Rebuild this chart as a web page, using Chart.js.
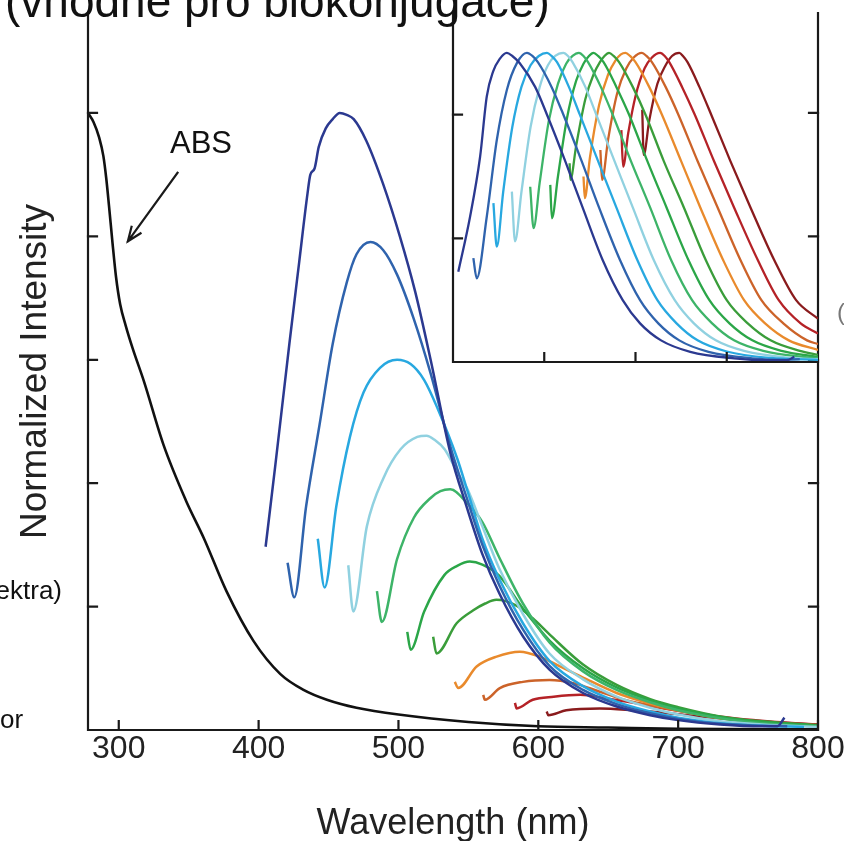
<!DOCTYPE html>
<html><head><meta charset="utf-8">
<script src="https://cdn.jsdelivr.net/npm/chart.js@4.4.1/dist/chart.umd.min.js"></script>
<style>
html,body{margin:0;padding:0;background:#fff;overflow:hidden}
#wrap{position:relative;width:844px;height:841px;overflow:hidden;font-family:'Liberation Sans',Arial,sans-serif;color:#111}
#main{position:absolute;left:0;top:0}
#inset{position:absolute;left:440px;top:0}
.t{position:absolute;white-space:nowrap;line-height:1}
</style></head><body>
<div id="wrap">
<canvas id="main" width="844" height="841"></canvas>
<canvas id="inset" width="404" height="380"></canvas>
<div class="t" style="left:5px;top:-22px;font-size:46px">(vhodné pro biokonjugace)</div>
<div class="t" style="right:782px;top:577px;font-size:26px">(spektra)</div>
<div class="t" style="left:0px;top:706px;font-size:26px">or</div>
<div class="t" style="left:170px;top:127px;font-size:31px">ABS</div>
<div class="t" style="left:837px;top:300px;font-size:24px;color:#777">(</div>
</div>
<script>
// ---------- DATA ----------
const excitationNm = [405, 425, 445, 467, 487, 507, 528, 545, 563, 585, 605];
const curveColors = ['#2b3990','#2f63ad','#28a8e0','#90d1e0','#3db468','#2ba648','#3a9d3a','#e98a2c','#cc6329','#b52227','#8a1b1d'];

const absSpectrum = [[278,1.0],[282,0.985],[286,0.96],[289,0.93],[291,0.895],[293,0.85],[295.5,0.79],[298,0.735],[301,0.69],[305,0.655],[310,0.618],[318,0.565],[332,0.462],[348,0.372],[361,0.31],[377,0.225],[396.4,0.144],[415.4,0.091],[432.1,0.065],[448.8,0.049],[470,0.036],[500,0.025],[550,0.013],[600,0.006],[650,0.004],[700,0.002],[800,0.001]];

const em405 = [[405,0.297],[412,0.43],[422,0.626],[429,0.758],[435,0.87],[437,0.9],[440,0.91],[443,0.945],[448,0.975],[453,0.99],[458,1.0],[463,0.997],[468,0.99],[477,0.955],[489,0.885],[501,0.80],[512,0.71],[523,0.60],[537,0.45],[549,0.36],[560,0.285],[572,0.222],[589,0.152],[608,0.098],[632,0.06],[656,0.038],[680,0.024],[700,0.016],[730,0.009],[760,0.006],[771,0.006],[776,0.02]];
const em425 = [[420.7,0.271],[425.5,0.215],[434,0.363],[443.6,0.495],[453,0.626],[463,0.725],[470,0.771],[480,0.791],[489,0.778],[499,0.738],[511,0.666],[523,0.578],[537,0.46],[549,0.375],[560,0.30],[572,0.235],[589,0.163],[608,0.104],[632,0.065],[656,0.042],[680,0.027],[700,0.018],[730,0.01],[760,0.007],[778,0.006]];
const em445 = [[442.3,0.31],[447.2,0.231],[455.6,0.363],[465.3,0.475],[475,0.547],[486.8,0.587],[499,0.6],[508.7,0.593],[518.4,0.567],[528,0.521],[542,0.44],[549,0.39],[560,0.31],[572,0.245],[589,0.173],[608,0.112],[632,0.071],[656,0.046],[680,0.03],[700,0.02],[730,0.011],[760,0.007],[790,0.005]];
const em467 = [[464.1,0.267],[467.7,0.192],[477.4,0.33],[489.4,0.409],[501.5,0.455],[513.5,0.475],[520,0.477],[526,0.47],[533,0.455],[542.5,0.416],[549,0.392],[560,0.33],[572,0.262],[589,0.188],[608,0.124],[632,0.082],[656,0.054],[680,0.036],[700,0.025],[730,0.014],[760,0.009],[800,0.005]];
const em487 = [[484.6,0.225],[488.1,0.175],[499,0.277],[511,0.344],[523,0.376],[530,0.387],[537,0.39],[549,0.368],[560,0.337],[572,0.28],[589,0.205],[608,0.142],[632,0.095],[656,0.065],[680,0.045],[700,0.032],[730,0.019],[760,0.011],[800,0.006]];
const em507 = [[506.3,0.159],[508.7,0.13],[518.4,0.192],[532.8,0.251],[542,0.266],[551,0.273],[560,0.268],[572,0.25],[589,0.197],[608,0.145],[632,0.1],[656,0.069],[680,0.048],[700,0.035],[730,0.021],[760,0.013],[800,0.007]];
const em528 = [[524.8,0.151],[527.2,0.124],[541.6,0.173],[553.5,0.194],[562,0.205],[570,0.211],[584,0.202],[596,0.181],[608,0.155],[632,0.106],[656,0.073],[680,0.05],[700,0.037],[730,0.022],[760,0.014],[800,0.008]];
const em545 = [[540.3,0.078],[542.7,0.068],[555.9,0.103],[570.2,0.119],[586.8,0.127],[601,0.119],[615.5,0.103],[632,0.085],[656,0.06],[680,0.043],[700,0.032],[730,0.019],[760,0.012],[800,0.007]];
const em563 = [[560.6,0.057],[561.8,0.049],[572.5,0.068],[589,0.078],[608,0.081],[625,0.076],[644,0.062],[660,0.05],[680,0.04],[700,0.031],[730,0.02],[760,0.013],[800,0.008]];
const em585 = [[583.3,0.044],[584.5,0.035],[596,0.049],[611,0.054],[630,0.057],[649,0.051],[668,0.044],[690,0.035],[710,0.028],[740,0.019],[770,0.013],[800,0.009]];
const em605 = [[606,0.03],[607.1,0.024],[620,0.032],[644,0.035],[668,0.032],[690,0.028],[710,0.023],[740,0.017],[770,0.012],[800,0.009]];

const in405 = [[405.8,0.292],[418.7,0.47],[429.7,0.664],[437,0.859],[444,0.94],[451,0.98],[459,1.0],[465,0.99],[473,0.967],[490,0.89],[503,0.8],[523,0.65],[542,0.5],[564,0.33],[586,0.2],[605,0.125],[628,0.07],[660,0.033],[708,0.012],[745,0.006],[766,0.006],[774,0.017]];
const in425 = [[422.3,0.336],[426,0.271],[437,0.47],[448,0.718],[459,0.88],[470,0.967],[481,1.0],[487,0.99],[493,0.97],[508,0.89],[521,0.8],[541,0.65],[560,0.5],[583,0.33],[605,0.2],[625,0.125],[648,0.07],[680,0.033],[728,0.012],[765,0.007],[780,0.009]];
const in445 = [[444.3,0.514],[448,0.373],[455,0.55],[465,0.76],[475,0.89],[485,0.96],[494,0.99],[503,1.0],[508,0.99],[514,0.97],[527,0.89],[539,0.8],[559,0.65],[579,0.5],[602,0.33],[624,0.2],[645,0.125],[668,0.07],[700,0.034],[748,0.013],[800,0.007]];
const in467 = [[464.5,0.551],[468,0.39],[475,0.55],[485,0.76],[495,0.89],[504,0.96],[512,0.99],[521,1.0],[526,0.99],[531,0.97],[545,0.89],[557,0.8],[577,0.65],[597,0.5],[620,0.33],[643,0.2],[664,0.125],[688,0.07],[720,0.035],[768,0.014],[800,0.009]];
const in487 = [[484.6,0.567],[488.3,0.433],[495,0.58],[505,0.78],[515,0.9],[524,0.965],[531,0.99],[538,1.0],[543,0.99],[548,0.97],[562,0.89],[575,0.8],[595,0.65],[616,0.5],[639,0.33],[662,0.2],[684,0.125],[708,0.07],[740,0.036],[788,0.015],[800,0.012]];
const in507 = [[506.6,0.573],[508.4,0.465],[515,0.6],[525,0.79],[535,0.91],[543,0.965],[549,0.99],[554,1.0],[559,0.99],[565,0.97],[579,0.89],[593,0.8],[613,0.65],[634,0.5],[658,0.33],[681,0.2],[703,0.125],[728,0.07],[760,0.036],[800,0.016]];
const in528 = [[527.8,0.643],[528.6,0.589],[535,0.7],[545,0.85],[554,0.93],[561,0.97],[566,0.99],[571,1.0],[576,0.99],[582,0.97],[597,0.89],[611,0.8],[631,0.65],[653,0.5],[677,0.33],[700,0.2],[723,0.125],[748,0.07],[780,0.036],[800,0.023]];
const in545 = [[543,0.6],[544.5,0.53],[550,0.66],[560,0.83],[570,0.93],[578,0.975],[584,0.995],[589,1.0],[594,0.99],[600,0.97],[615,0.89],[629,0.8],[650,0.65],[671,0.5],[696,0.33],[719,0.2],[742,0.125],[768,0.07],[800,0.039]];
const in563 = [[561.5,0.686],[563.4,0.589],[570,0.72],[580,0.87],[590,0.95],[598,0.985],[607,1.0],[612,0.99],[618,0.97],[633,0.89],[647,0.8],[668,0.65],[690,0.5],[715,0.33],[738,0.2],[762,0.125],[788,0.07],[800,0.058]];
const in585 = [[584.5,0.75],[586.4,0.632],[592,0.74],[600,0.86],[610,0.95],[618,0.985],[627,1.0],[632,0.99],[637,0.97],[651,0.89],[665,0.8],[686,0.65],[708,0.5],[734,0.33],[757,0.2],[781,0.125],[800,0.092]];
const in605 = [[607.4,0.816],[609,0.67],[615,0.78],[624,0.9],[633,0.96],[640,0.99],[648,1.0],[652,0.99],[657,0.97],[670,0.89],[683,0.8],[704,0.65],[726,0.5],[752,0.33],[776,0.2],[800,0.14]];

const mainXTicksStep = 100;
const mainYTicksStep = 0.2;

// ---------- CHART ----------
const mainSeries = [em405, em425, em445, em467, em487, em507, em528, em545, em563, em585, em605];
const insetSeries = [in405, in425, in445, in467, in487, in507, in528, in545, in563, in585, in605];
const toXY = a => a.map(p => ({x: p[0], y: p[1]}));
const FONT = "'Liberation Sans', Arial, sans-serif";

const framePlugin = {
  id: 'frame',
  afterDatasetsDraw(chart, args, o) {
    const {ctx, chartArea: a, scales} = chart;
    ctx.save();
    ctx.strokeStyle = '#1a1a1a';
    ctx.lineWidth = 2.2;
    ctx.lineCap = 'square';
    ctx.beginPath();
    if (o.left) { ctx.moveTo(a.left, a.top); ctx.lineTo(a.left, a.bottom); }
    ctx.moveTo(a.left, a.bottom); ctx.lineTo(a.right, a.bottom);
    if (o.right) { ctx.moveTo(a.right, a.top); ctx.lineTo(a.right, a.bottom); }
    ctx.stroke();
    const L = o.tickLen;
    ctx.beginPath();
    scales.x.ticks.forEach(t => {
      if (o.skipXEnds && (t.value === scales.x.min || t.value === scales.x.max)) return;
      const px = scales.x.getPixelForValue(t.value);
      ctx.moveTo(px, a.bottom); ctx.lineTo(px, a.bottom - L);
    });
    scales.y.ticks.forEach(t => {
      if (t.value === 0) return;
      const py = scales.y.getPixelForValue(t.value);
      ctx.moveTo(a.left, py); ctx.lineTo(a.left + L, py);
      if (o.right) { ctx.moveTo(a.right, py); ctx.lineTo(a.right - L, py); }
    });
    ctx.stroke();
    if (o.arrow) {
      const x0 = scales.x.getPixelForValue(o.arrow.from[0]), y0 = scales.y.getPixelForValue(o.arrow.from[1]);
      const x1 = scales.x.getPixelForValue(o.arrow.to[0]), y1 = scales.y.getPixelForValue(o.arrow.to[1]);
      ctx.lineWidth = 2.2;
      ctx.beginPath(); ctx.moveTo(x0, y0); ctx.lineTo(x1, y1);
      const ang = Math.atan2(y1 - y0, x1 - x0), h = 15, w = 0.38;
      ctx.moveTo(x1 - h * Math.cos(ang - w), y1 - h * Math.sin(ang - w));
      ctx.lineTo(x1, y1);
      ctx.lineTo(x1 - h * Math.cos(ang + w), y1 - h * Math.sin(ang + w));
      ctx.stroke();
    }
    ctx.restore();
  }
};

function lineDs(label, arr, color, w) {
  return {label, data: toXY(arr), borderColor: color, backgroundColor: color, borderWidth: w,
          pointRadius: 0, fill: false, cubicInterpolationMode: 'monotone'};
}

const mainDatasets = [lineDs('ABS', absSpectrum, '#111111', 2.6)]
  .concat(mainSeries.map((s, i) => lineDs('Em ' + excitationNm[i] + ' nm', s, curveColors[i], 2.5)));
const insetDatasets = insetSeries.map((s, i) => lineDs('Em ' + excitationNm[i] + ' nm (norm.)', s, curveColors[i], 2.3));

new Chart(document.getElementById('main'), {
  type: 'line',
  data: {datasets: mainDatasets},
  plugins: [framePlugin],
  options: {
    responsive: false, animation: false, devicePixelRatio: 1,
    layout: {padding: {top: 13, right: 26, left: 0, bottom: 0}},
    plugins: {legend: {display: false}, tooltip: {enabled: false},
      frame: {left: true, right: true, tickLen: 9, skipXEnds: false,
              arrow: {from: [342, 0.903], to: [306.5, 0.792]}}},
    scales: {
      x: {type: 'linear', position: 'bottom', min: 278, max: 800,
          afterFit(s) { s.height = 111; s.paddingLeft = 0; s.paddingRight = 0; },
          grid: {display: false, drawTicks: false}, border: {display: false},
          ticks: {stepSize: mainXTicksStep, includeBounds: false, autoSkip: false, maxRotation: 0,
                  padding: 0, color: '#222', font: {family: FONT, size: 32}},
          title: {display: true, text: 'Wavelength (nm)', color: '#222',
                  font: {family: FONT, size: 36}, padding: {top: 0, bottom: -5}}},
      y: {type: 'linear', position: 'left', min: 0, max: 1.162,
          afterFit(s) { s.width = 88; s.paddingTop = 0; s.paddingBottom = 0; },
          grid: {display: false, drawTicks: false}, border: {display: false},
          ticks: {display: false, stepSize: mainYTicksStep, includeBounds: false},
          title: {display: true, text: 'Normalized Intensity', color: '#222',
                  font: {family: FONT, size: 37}, padding: {top: 14, bottom: 0}}}
    }
  }
});

new Chart(document.getElementById('inset'), {
  type: 'line',
  data: {datasets: insetDatasets},
  plugins: [framePlugin],
  options: {
    responsive: false, animation: false, devicePixelRatio: 1,
    layout: {padding: {top: 13, right: 26, left: 13, bottom: 18}},
    plugins: {legend: {display: false}, tooltip: {enabled: false},
      frame: {left: true, right: false, tickLen: 9, skipXEnds: true}},
    scales: {
      x: {type: 'linear', min: 400, max: 800, afterFit(s) { s.height = 0; },
          grid: {display: false, drawTicks: false}, border: {display: false},
          ticks: {display: false, stepSize: 100}},
      y: {type: 'linear', min: 0, max: 1.129, afterFit(s) { s.width = 0; },
          grid: {display: false, drawTicks: false}, border: {display: false},
          ticks: {display: false, stepSize: 0.4, includeBounds: false}}
    }
  }
});
</script>
</body></html>
